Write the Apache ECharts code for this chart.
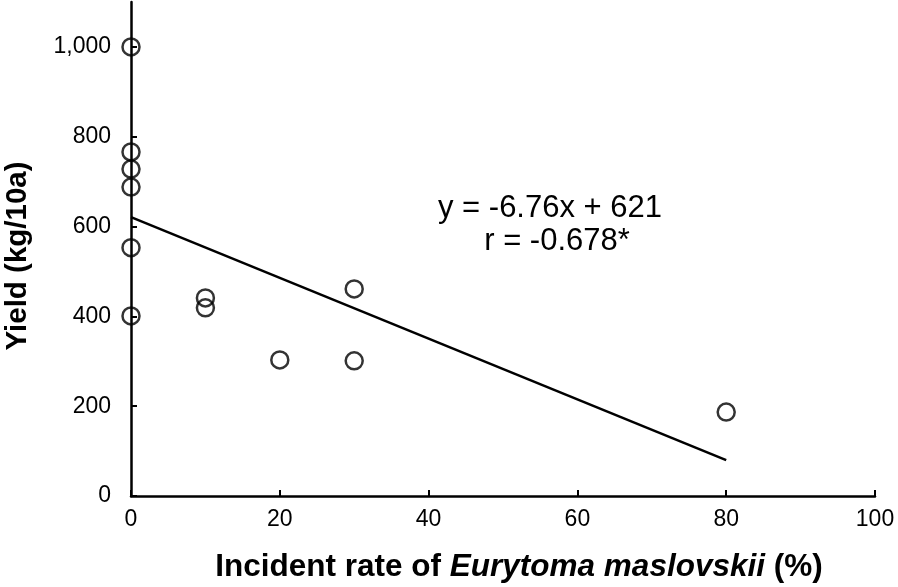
<!DOCTYPE html>
<html>
<head>
<meta charset="utf-8">
<script src="https://cdn.jsdelivr.net/npm/echarts@6/dist/echarts.min.js"></script>
<style>
html,body{margin:0;padding:0;background:#fff;}
#chart{width:898px;height:587px;}
</style>
</head>
<body>
<div id="chart"></div>
<script>
// Observed data (incident rate %, yield kg/10a)
var incidentRate = [0, 0, 0, 0, 0, 0, 10, 10, 20, 30, 30, 80];
var yieldValues  = [1000, 766, 728, 688, 553, 401, 441, 419, 303, 461, 301, 187];
// Regression line endpoints
var fitX = [0, 80];
var fitY = [621, 80];
// Tick values
var xTicks = [0, 20, 40, 60, 80, 100];
var yTicks = [0, 200, 400, 600, 800, 1000];
var equationText = 'y = -6.76x + 621';
var rText = 'r = -0.678*';

var chart = echarts.init(document.getElementById('chart'), null, {renderer: 'canvas'});
var font = '"Liberation Sans", Arial, sans-serif';

var option = {
  backgroundColor: '#fff',
  animation: false,
  grid: {left: 131, right: 23, top: 2, bottom: 91, containLabel: false, outerBoundsMode: 'none'},
  xAxis: {
    type: 'value', min: 0, max: 100, interval: 20,
    name: '{b|Incident rate of }{i|Eurytoma maslovskii}{b| (%)}',
    nameLocation: 'middle', nameGap: 55,
    nameTextStyle: {
      padding: [0, 0, 0, 32],
      rich: {
        b: {fontFamily: font, fontSize: 31.5, fontWeight: 'bold', color: '#000'},
        i: {fontFamily: font, fontSize: 31.5, fontWeight: 'bold', fontStyle: 'italic', color: '#000'}
      }
    },
    axisLine: {lineStyle: {color: '#000', width: 2.5}},
    axisTick: {inside: true, length: 6, lineStyle: {color: '#000', width: 2}},
    axisLabel: {fontFamily: font, fontSize: 23, color: '#000', margin: 12},
    splitLine: {show: false}
  },
  yAxis: {
    type: 'value', min: 0, max: 1100,
    name: 'Yield (kg/10a)',
    nameLocation: 'middle', nameGap: 98,
    nameTextStyle: {fontFamily: font, fontSize: 29.5, fontWeight: 'bold', color: '#000', padding: [0, 14, 0, 0]},
    axisLine: {lineStyle: {color: '#000', width: 2.5}},
    axisTick: {inside: true, length: 6, customValues: yTicks, lineStyle: {color: '#000', width: 2}},
    axisLabel: {
      fontFamily: font, fontSize: 23, color: '#000', margin: 20,
      customValues: yTicks,
      formatter: function (v) { return v.toLocaleString('en-US'); }
    },
    splitLine: {show: false}
  },
  series: [
    {
      type: 'line',
      data: fitX.map(function (x, i) { return [x, fitY[i]]; }),
      showSymbol: false, symbol: 'none',
      lineStyle: {color: '#000', width: 2.5},
      z: 2
    },
    {
      type: 'scatter',
      data: incidentRate.map(function (x, i) { return [x, yieldValues[i]]; }),
      symbol: 'circle', symbolSize: 17,
      itemStyle: {color: 'rgba(0,0,0,0)', borderColor: '#000', borderWidth: 2.5},
      z: 3
    }
  ],
  graphic: [
    {type: 'text', x: 550, y: 208, style: {text: equationText, fontFamily: font, fontSize: 31, fill: '#000', align: 'center', verticalAlign: 'middle'}},
    {type: 'text', x: 557, y: 241, style: {text: rText, fontFamily: font, fontSize: 31, fill: '#000', align: 'center', verticalAlign: 'middle'}}
  ]
};
chart.setOption(option);
</script>
</body>
</html>
